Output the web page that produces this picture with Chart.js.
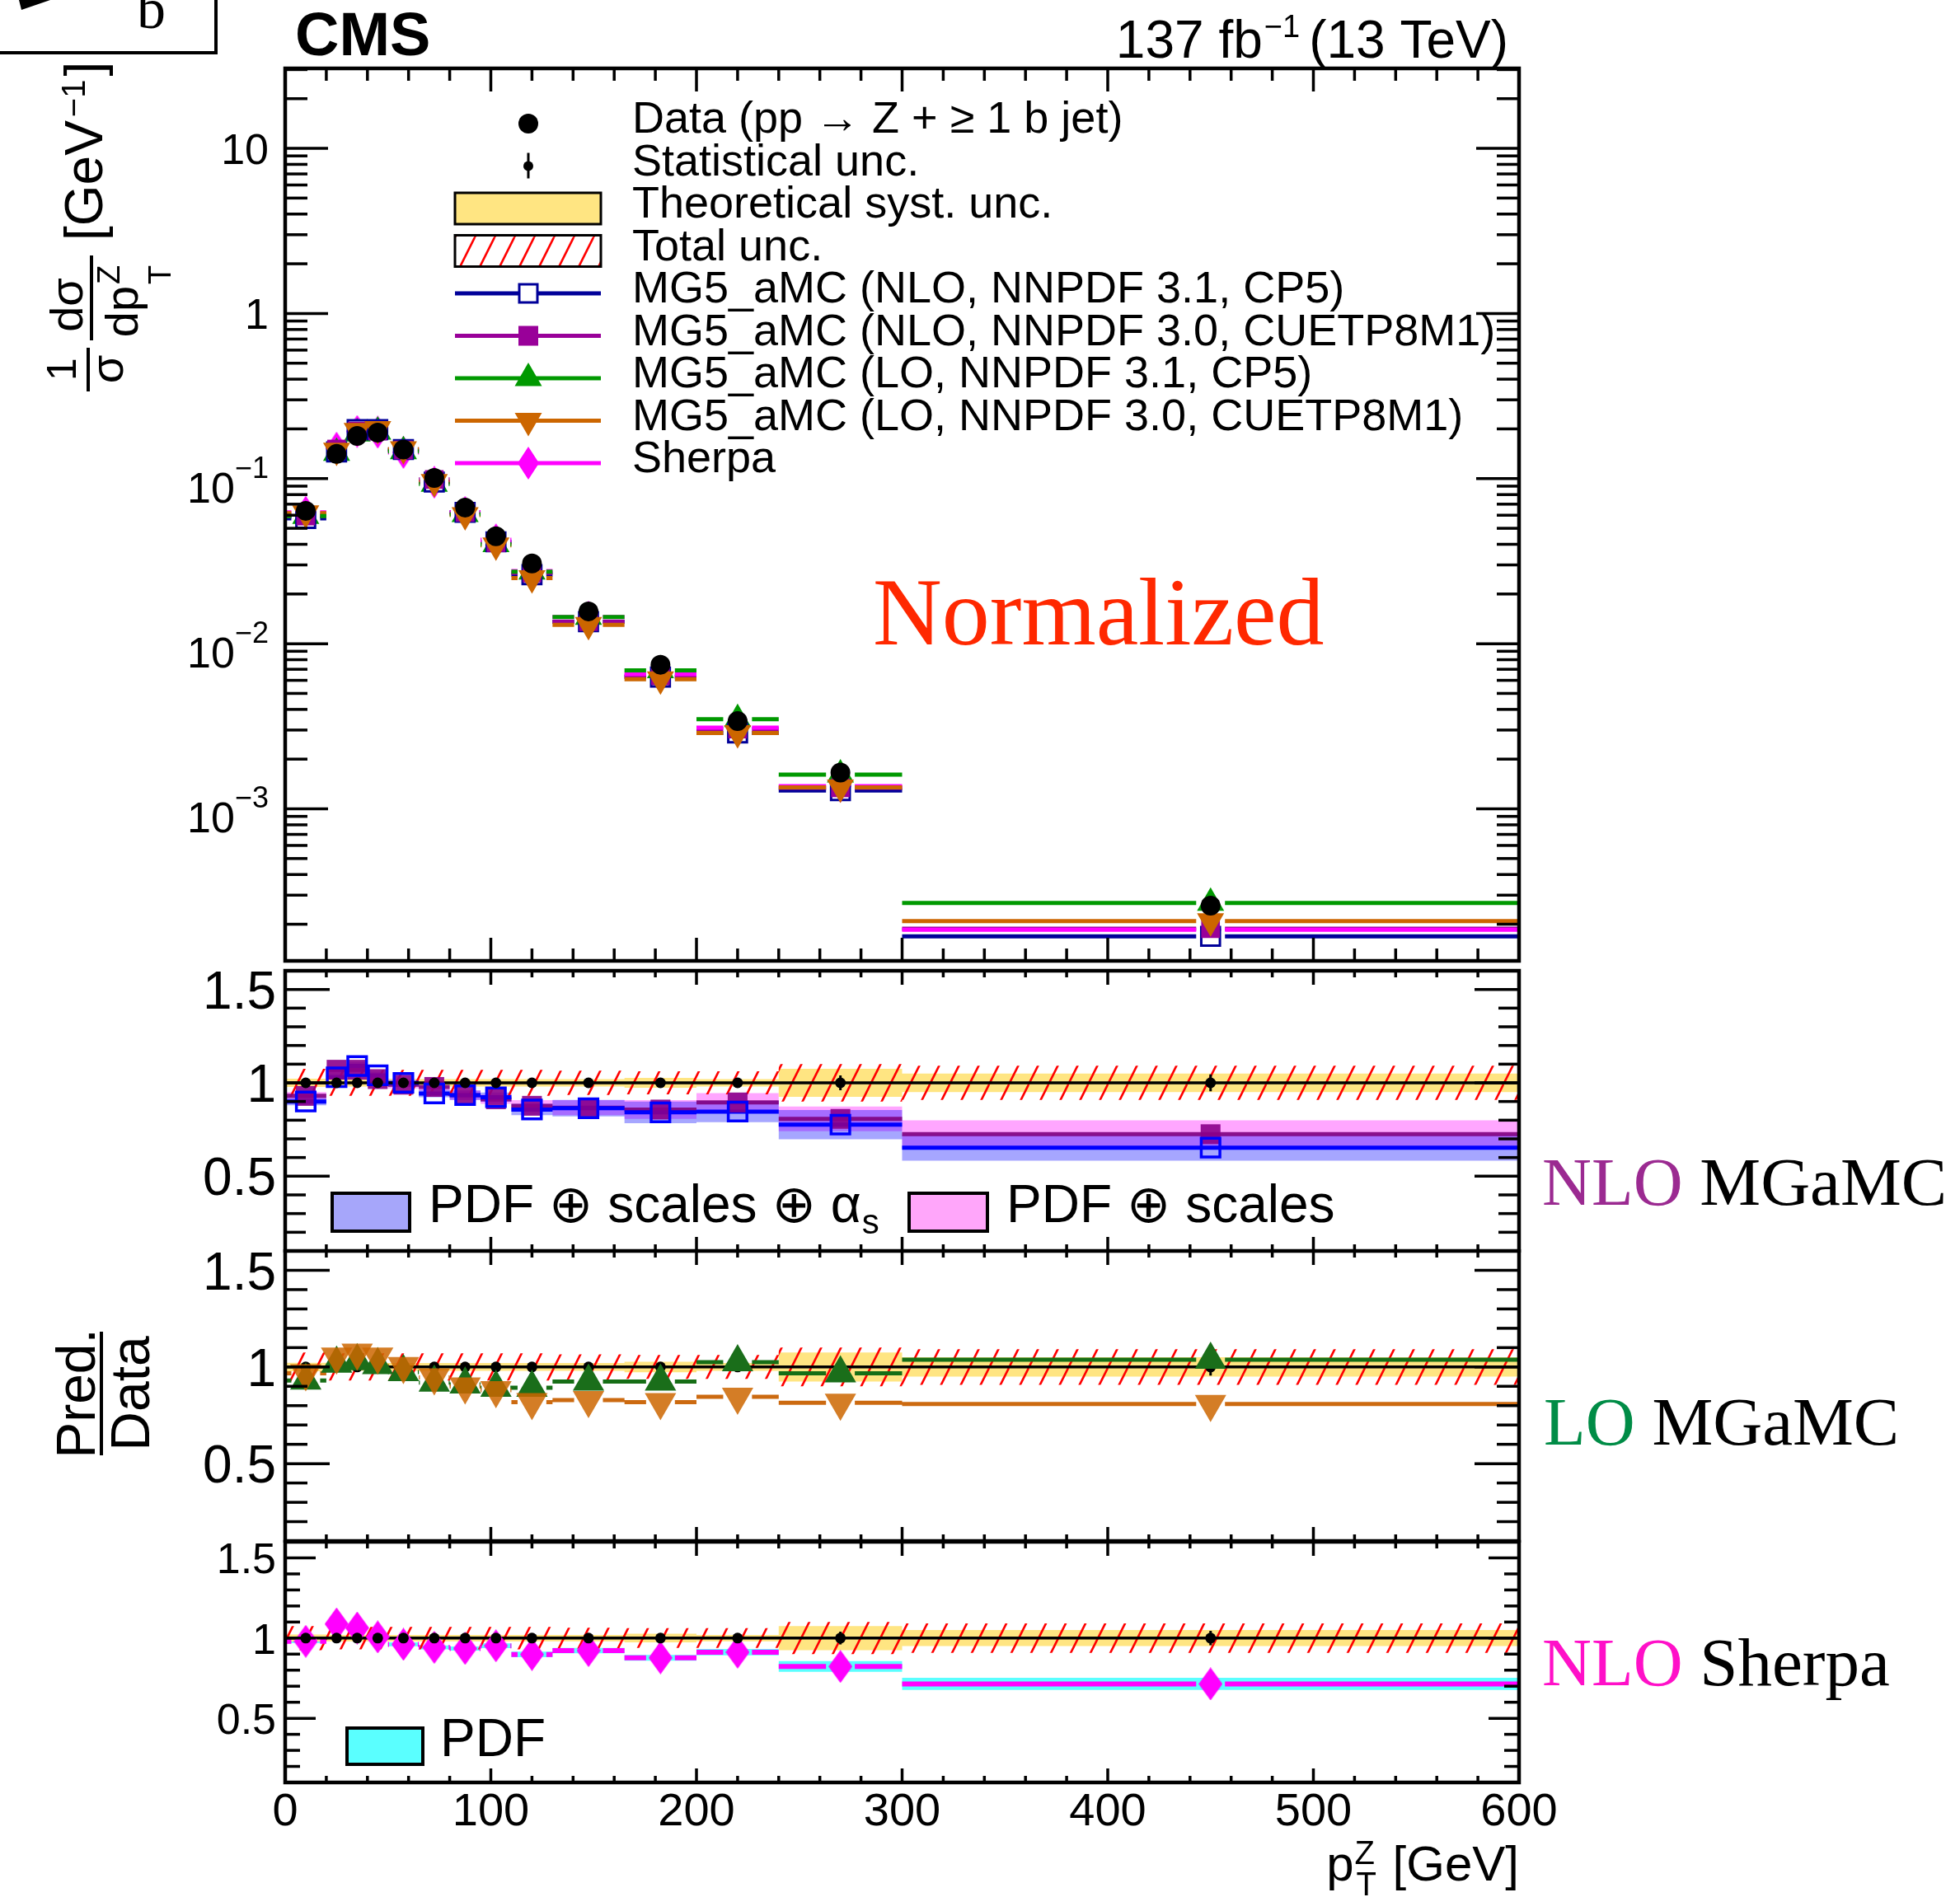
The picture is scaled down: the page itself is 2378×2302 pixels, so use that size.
<!DOCTYPE html>
<html>
<head>
<meta charset="utf-8">
<title>Z + b jet, normalized pT(Z)</title>
<script src="https://cdn.jsdelivr.net/npm/chart.js@4.4.1/dist/chart.umd.min.js"></script>
<style>
  html, body { margin: 0; padding: 0; background: #fff; }
  body { position: relative; width: 2378px; height: 2302px; overflow: hidden; }
  canvas { position: absolute; left: 0; }
</style>
</head>
<body>
<canvas id="main" width="2378" height="1172" style="top:0px"></canvas>
<canvas id="r1" width="2378" height="348" style="top:1172px"></canvas>
<canvas id="r2" width="2378" height="356" style="top:1516px"></canvas>
<canvas id="r3" width="2378" height="434" style="top:1868px"></canvas>
<script>
// ---- values ----
const binEdges = [0, 20, 30, 40, 50, 65, 80, 95, 110, 130, 165, 200, 240, 300, 600];
const binCenters = [10, 25, 35, 45, 57.5, 72.5, 87.5, 102.5, 120, 147.5, 182.5, 220, 270, 450];

// 1/sigma dsigma/dpT [GeV^-1]
const dataXsec   = [0.0638, 0.141, 0.1815, 0.190, 0.150, 0.101, 0.0668, 0.0448, 0.0306, 0.0157, 0.00746, 0.0034, 0.00166, 0.000259];
const nlo31Xsec  = [0.0574, 0.145, 0.198, 0.198, 0.150, 0.0952, 0.0624, 0.0414, 0.0262, 0.0136, 0.00628, 0.00288, 0.00129, 0.000169];
const nlo30Xsec  = [0.0593, 0.151, 0.194, 0.194, 0.149, 0.0988, 0.0624, 0.0409, 0.0268, 0.0136, 0.00639, 0.00304, 0.00134, 0.000188];
const lo31Xsec   = [0.0593, 0.143, 0.187, 0.192, 0.146, 0.0928, 0.0608, 0.0400, 0.0273, 0.0145, 0.00690, 0.00349, 0.00161, 0.000269];
const lo30Xsec   = [0.0617, 0.148, 0.195, 0.200, 0.151, 0.0955, 0.0601, 0.0394, 0.0250, 0.0130, 0.00610, 0.00288, 0.00135, 0.000209];
const sherpaXsec = [0.0625, 0.153, 0.193, 0.191, 0.144, 0.0951, 0.0625, 0.0426, 0.0275, 0.0145, 0.00654, 0.00310, 0.00137, 0.000185];

// relative uncertainties of the data
const statUnc  = [0.01, 0.008, 0.008, 0.008, 0.008, 0.01, 0.01, 0.012, 0.013, 0.015, 0.02, 0.025, 0.04, 0.045];
const theoUnc  = [0.022, 0.02, 0.02, 0.02, 0.02, 0.02, 0.02, 0.02, 0.02, 0.02, 0.027, 0.02, 0.075, 0.05];
const totalUnc = [0.075, 0.07, 0.07, 0.07, 0.07, 0.07, 0.07, 0.07, 0.07, 0.065, 0.062, 0.062, 0.1, 0.092];

// prediction / data
const nlo31Ratio  = [0.90, 1.03, 1.09, 1.04, 1.00, 0.943, 0.934, 0.923, 0.857, 0.864, 0.842, 0.846, 0.776, 0.653];
const nlo30Ratio  = [0.93, 1.07, 1.07, 1.02, 0.99, 0.978, 0.934, 0.912, 0.877, 0.867, 0.857, 0.895, 0.807, 0.725];
const lo31Ratio   = [0.93, 1.017, 1.03, 1.01, 0.974, 0.919, 0.91, 0.893, 0.893, 0.925, 0.925, 1.025, 0.967, 1.038];
const lo30Ratio   = [0.967, 1.053, 1.074, 1.053, 1.004, 0.946, 0.899, 0.88, 0.818, 0.829, 0.818, 0.846, 0.815, 0.808];
const sherpaRatio = [0.98, 1.088, 1.063, 1.007, 0.961, 0.942, 0.935, 0.952, 0.898, 0.922, 0.877, 0.912, 0.823, 0.714];
const dataRatio   = dataXsec.map(v => v / v);

// theory bands (half widths)
const nlo31Band     = [0.02, 0.02, 0.02, 0.02, 0.02, 0.02, 0.025, 0.025, 0.03, 0.044, 0.058, 0.057, 0.078, 0.07];
const nlo30Band     = [0.02, 0.02, 0.02, 0.02, 0.02, 0.02, 0.025, 0.025, 0.03, 0.04, 0.05, 0.05, 0.066, 0.074];
const sherpaPdfBand = [0.01, 0.01, 0.01, 0.01, 0.012, 0.012, 0.013, 0.015, 0.017, 0.017, 0.018, 0.02, 0.034, 0.038];

// axis labels
const xTickValues = [0, 100, 200, 300, 400, 500, 600];
const xTickLabels = ['0', '100', '200', '300', '400', '500', '600'];
const mainTickValues = [10, 1, 0.1, 0.01, 0.001];
const mainTickLabels = [['10', ''], ['1', ''], ['10', '\u22121'], ['10', '\u22122'], ['10', '\u22123']];
const ratioTickValues = [0.5, 1, 1.5];
const ratioTickLabels = ['0.5', '1', '1.5'];

// ---- styling ----
const SANS = '"Liberation Sans", Arial, Helvetica, "DejaVu Sans", sans-serif';
const SERIF = '"Liberation Serif", "Times New Roman", "DejaVu Serif", serif';
const YELLOW = 'rgb(255,229,130)';
const CYAN = 'rgb(90,255,255)';
const GAP = 7; // GeV left blank each side of a marker, like ROOT does

function makeHatch() {
  const c = document.createElement('canvas');
  c.width = 24; c.height = 48;
  const g = c.getContext('2d');
  g.strokeStyle = '#ff0000';
  g.lineWidth = 2.6;
  g.beginPath();
  [-24, 0, 24].forEach(o => { g.moveTo(o, 48); g.lineTo(o + 24, 0); });
  g.stroke();
  return g.createPattern(c, 'repeat');
}
const hatch = makeHatch();

function diamondImage(w, h, color) {
  const c = document.createElement('canvas');
  c.width = w; c.height = h;
  const g = c.getContext('2d');
  g.fillStyle = color;
  g.beginPath();
  g.moveTo(w / 2, 0); g.lineTo(w, h / 2); g.lineTo(w / 2, h); g.lineTo(0, h / 2);
  g.closePath(); g.fill();
  return c;
}
const diamondMain = diamondImage(26, 40, '#ff00ff');
const diamondRatio = diamondImage(29, 40, '#ff00ff');

// ---- dataset builders ----
function segLine(values, color, width, gap, order) {
  const pts = [];
  values.forEach((v, i) => {
    const lo = binEdges[i], hi = binEdges[i + 1], c = binCenters[i];
    if (!gap) { pts.push({ x: lo, y: v }, { x: hi, y: v }, { x: hi, y: null }); return; }
    if (c - gap > lo) pts.push({ x: lo, y: v }, { x: c - gap, y: v }, { x: c, y: null });
    if (c + gap < hi) pts.push({ x: c + gap, y: v }, { x: hi, y: v }, { x: hi, y: null });
  });
  return { data: pts, borderColor: color, borderWidth: width, borderCapStyle: 'butt',
    pointRadius: 0, spanGaps: false, fill: false, order };
}

function markers(values, style, radius, fill, stroke, bw, order, rotation) {
  return { data: binCenters.map((x, i) => ({ x, y: values[i] })), showLine: false,
    pointStyle: style, pointRadius: radius, pointRotation: rotation || 0,
    pointBackgroundColor: fill, pointBorderColor: stroke, pointBorderWidth: bw, order };
}

function band(center, half, color, order) {
  const up = [], dn = [];
  center.forEach((v, i) => {
    up.push({ x: binEdges[i], y: v + half[i] }, { x: binEdges[i + 1], y: v + half[i] });
    dn.push({ x: binEdges[i], y: v - half[i] }, { x: binEdges[i + 1], y: v - half[i] });
  });
  return [
    { data: up, borderWidth: 0, borderColor: 'rgba(0,0,0,0)', pointRadius: 0, fill: '+1', backgroundColor: color, order },
    { data: dn, borderWidth: 0, borderColor: 'rgba(0,0,0,0)', pointRadius: 0, fill: false, order: order - 0.5 },
  ];
}

function statBars(half, order) {
  const pts = [];
  binCenters.forEach((c, i) => pts.push({ x: c, y: 1 - half[i] }, { x: c, y: 1 + half[i] }, { x: c, y: null }));
  return { data: pts, borderColor: '#000', borderWidth: 3, pointRadius: 0, spanGaps: false, fill: false, order };
}

// ---- drawing helpers ----
function seg(ctx, x1, y1, x2, y2) {
  ctx.beginPath(); ctx.moveTo(x1, y1); ctx.lineTo(x2, y2); ctx.stroke();
}

function frameAndTicks(chart, cfg) {
  const ctx = chart.ctx, a = chart.chartArea, xs = chart.scales.x, ys = chart.scales.y;
  ctx.save();
  ctx.strokeStyle = '#000';
  ctx.lineWidth = 3.5;
  for (let v = 0; v <= 600; v += 20) {
    const px = xs.getPixelForValue(v);
    const L = v % 100 === 0 ? cfg.xMaj : cfg.xMin;
    seg(ctx, px, a.top, px, a.top + L);
    seg(ctx, px, a.bottom, px, a.bottom - L);
  }
  cfg.yTicks.forEach(t => {
    const py = ys.getPixelForValue(t.v);
    const L = t.major ? cfg.yMaj : cfg.yMin;
    seg(ctx, a.left, py, a.left + L, py);
    seg(ctx, a.right, py, a.right - L, py);
  });
  ctx.lineWidth = 4.5;
  ctx.strokeRect(a.left, a.top, a.right - a.left, a.bottom - a.top);
  ctx.restore();
}

function text(ctx, s, x, y, size, opts) {
  opts = opts || {};
  ctx.font = (opts.weight || 'normal') + ' ' + size + 'px ' + (opts.family || SANS);
  ctx.fillStyle = opts.color || '#000';
  ctx.textAlign = opts.align || 'left';
  ctx.textBaseline = 'alphabetic';
  ctx.fillText(s, x, y);
  return ctx.measureText(s).width;
}

function width(ctx, s, size, family) {
  ctx.font = size + 'px ' + (family || SANS);
  return ctx.measureText(s).width;
}

function shape(ctx, kind, x, y, color) {
  ctx.fillStyle = color; ctx.strokeStyle = color;
  ctx.beginPath();
  if (kind === 'circle') ctx.arc(x, y, 12, 0, Math.PI * 2);
  if (kind === 'square') ctx.rect(x - 12, y - 12, 24, 24);
  if (kind === 'up') { ctx.moveTo(x, y - 19); ctx.lineTo(x + 16.5, y + 9.5); ctx.lineTo(x - 16.5, y + 9.5); ctx.closePath(); }
  if (kind === 'down') { ctx.moveTo(x, y + 19); ctx.lineTo(x + 16.5, y - 9.5); ctx.lineTo(x - 16.5, y - 9.5); ctx.closePath(); }
  ctx.fill();
}

const legendRows = [
  { label: 'Data (pp \u2192 Z + \u2265 1 b jet)', kind: 'data' },
  { label: 'Statistical unc.', kind: 'stat' },
  { label: 'Theoretical syst. unc.', kind: 'theo' },
  { label: 'Total unc.', kind: 'total' },
  { label: 'MG5_aMC (NLO, NNPDF 3.1, CP5)', kind: 'line', color: '#000099', marker: 'open' },
  { label: 'MG5_aMC (NLO, NNPDF 3.0, CUETP8M1)', kind: 'line', color: '#990099', marker: 'square' },
  { label: 'MG5_aMC (LO, NNPDF 3.1, CP5)', kind: 'line', color: '#009900', marker: 'up' },
  { label: 'MG5_aMC (LO, NNPDF 3.0, CUETP8M1)', kind: 'line', color: '#cc6600', marker: 'down' },
  { label: 'Sherpa', kind: 'line', color: '#ff00ff', marker: 'diamond' },
];

function drawMainLegend(ctx) {
  const x0 = 552, x1 = 729, xc = 641, tx = 767;
  legendRows.forEach((row, i) => {
    const y = 150 + i * 51.5;
    ctx.save();
    if (row.kind === 'data') shape(ctx, 'circle', xc, y, '#000');
    if (row.kind === 'stat') {
      ctx.strokeStyle = '#000'; ctx.lineWidth = 3; seg(ctx, xc, y - 16, xc, y + 15);
      ctx.fillStyle = '#000'; ctx.beginPath(); ctx.arc(xc, y, 6, 0, Math.PI * 2); ctx.fill();
    }
    if (row.kind === 'theo' || row.kind === 'total') {
      ctx.fillStyle = row.kind === 'theo' ? YELLOW : '#fff';
      ctx.fillRect(x0, y - 19, x1 - x0, 38);
      if (row.kind === 'total') { ctx.fillStyle = hatch; ctx.fillRect(x0, y - 19, x1 - x0, 38); }
      ctx.strokeStyle = '#000'; ctx.lineWidth = 3; ctx.strokeRect(x0, y - 19, x1 - x0, 38);
    }
    if (row.kind === 'line') {
      ctx.strokeStyle = row.color; ctx.lineWidth = 5; seg(ctx, x0, y, x1, y);
      if (row.marker === 'open') {
        ctx.fillStyle = '#fff'; ctx.fillRect(xc - 12, y - 12, 24, 24);
        ctx.lineWidth = 3; ctx.strokeRect(xc - 11, y - 11, 22, 22);
      } else if (row.marker === 'diamond') {
        ctx.drawImage(diamondMain, xc - 13, y - 20);
      } else {
        shape(ctx, row.marker, xc, y, row.color);
      }
    }
    text(ctx, row.label, tx, y + 11, 54);
    ctx.restore();
  });
}

function drawMainYTitle(ctx) {
  ctx.save();
  ctx.rotate(-Math.PI / 2);
  ctx.fillStyle = '#000';
  // local (lx, ly) -> page (x = ly, y = -lx)
  const put = (s, pageY, pageX, size, align) => text(ctx, s, -pageY, pageX, size, { align: align || 'center' });
  put('1', 448, 92, 50);
  put('\u03c3', 448, 149, 56);
  ctx.fillRect(-475, 105, 53, 4);
  put('d\u03c3', 370, 100, 56);
  put('dp', 378, 167, 56);
  put('Z', 345, 145, 38, 'left');
  put('T', 345, 207, 38, 'left');
  ctx.fillRect(-413, 109, 103, 4);
  const w1 = put('[GeV', 292, 124, 64, 'left');
  const w2 = put('\u22121', 292 - w1 - 4, 103, 40, 'left');
  put(']', 292 - w1 - w2 - 8, 124, 64, 'left');
  ctx.restore();
}

function drawHeader(ctx) {
  text(ctx, 'CMS', 358, 67, 74, { weight: 'bold' });
  const wTev = width(ctx, '(13 TeV)', 64);
  text(ctx, '(13 TeV)', 1830, 70, 64, { align: 'right' });
  const supRight = 1830 - wTev - 11;
  const wSup = width(ctx, '\u22121', 38);
  text(ctx, '\u22121', supRight, 45, 38, { align: 'right' });
  text(ctx, '137 fb', supRight - wSup - 2, 70, 64, { align: 'right' });
  text(ctx, 'Normalized', 1059, 782, 116, { family: SERIF, color: '#ff2800' });
  // corner of the neighbouring panel, cut by the figure edge
  ctx.save();
  ctx.strokeStyle = '#000'; ctx.lineWidth = 4;
  seg(ctx, 262, 0, 262, 66); seg(ctx, 0, 64, 264, 64);
  ctx.fillStyle = '#000';
  ctx.beginPath(); ctx.moveTo(23, 0); ctx.lineTo(61, 0); ctx.lineTo(26, 12); ctx.closePath(); ctx.fill();
  ctx.restore();
  text(ctx, 'b', 166, 34, 70, { family: SERIF });
}

function sideLabel(ctx, first, color, second, x, y) {
  const w = text(ctx, first, x, y, 83, { family: SERIF, color });
  const sp = width(ctx, ' ', 83, SERIF);
  text(ctx, second, x + w + sp, y, 83, { family: SERIF });
}

function legendBox(ctx, x, y, w, h, fill) {
  ctx.save();
  ctx.fillStyle = fill; ctx.fillRect(x, y, w, h);
  ctx.strokeStyle = '#000'; ctx.lineWidth = 4; ctx.strokeRect(x, y, w, h);
  ctx.restore();
}

// ---- plugins ----
const mainDecor = {
  id: 'mainDecor',
  afterDatasetsDraw(chart) {
    const ctx = chart.ctx, ys = chart.scales.y;
    const yTicks = [];
    for (let e = -4; e <= 1; e++) {
      for (let m = 1; m <= 9; m++) {
        const v = m * Math.pow(10, e);
        if (v > ys.min * 1.001 && v < ys.max * 0.999) yTicks.push({ v, major: m === 1 });
      }
    }
    frameAndTicks(chart, { yTicks, xMaj: 28, xMin: 15, yMaj: 52, yMin: 27 });
    ctx.save();
    mainTickValues.forEach((v, i) => {
      const py = ys.getPixelForValue(v);
      const base = mainTickLabels[i][0], sup = mainTickLabels[i][1];
      const wb = width(ctx, base, 52);
      const ws = sup ? width(ctx, sup, 36) : 0;
      const x0 = 326 - wb - ws;
      text(ctx, base, x0, py + (sup ? 29 : 19), 52);
      if (sup) text(ctx, sup, x0 + wb, py - 1, 36);
    });
    drawHeader(ctx);
    drawMainYTitle(ctx);
    drawMainLegend(ctx);
    ctx.restore();
  }
};

function ratioDecor(id, off, cfg, extra) {
  return {
    id,
    afterDatasetsDraw(chart) {
      const ctx = chart.ctx, ys = chart.scales.y;
      const yTicks = [];
      for (let k = 2; k <= 15; k++) yTicks.push({ v: k / 10, major: k % 5 === 0 });
      frameAndTicks(chart, { yTicks, xMaj: 17, xMin: 8, yMaj: cfg.yMaj, yMin: cfg.yMin });
      ctx.save();
      ratioTickValues.forEach((v, i) => {
        text(ctx, ratioTickLabels[i], 335, ys.getPixelForValue(v) + cfg.font * 0.36, cfg.font, { align: 'right' });
      });
      ctx.translate(0, -off);
      extra(ctx, chart);
      ctx.restore();
    }
  };
}

const r1Decor = ratioDecor('r1Decor', 1172, { yMaj: 54, yMin: 25, font: 64 }, ctx => {
  sideLabel(ctx, 'NLO', '#9b2a91', 'MGaMC', 1871, 1462);
  legendBox(ctx, 403, 1448, 94, 46, 'rgb(166,166,250)');
  const w = text(ctx, 'PDF \u2295 scales \u2295 \u03b1', 520, 1483, 64);
  text(ctx, 's', 520 + w + 1, 1497, 42);
  legendBox(ctx, 1103, 1448, 95, 46, 'rgb(255,166,250)');
  text(ctx, 'PDF \u2295 scales', 1221, 1483, 64);
});

const r2Decor = ratioDecor('r2Decor', 1516, { yMaj: 54, yMin: 27, font: 64 }, ctx => {
  sideLabel(ctx, 'LO', '#008c46', 'MGaMC', 1873, 1753);
  ctx.save();
  ctx.rotate(-Math.PI / 2);
  text(ctx, 'Pred.', -1691, 115, 66, { align: 'center' });
  text(ctx, 'Data', -1691, 181, 66, { align: 'center' });
  ctx.fillRect(-1766, 121, 150, 4);
  ctx.restore();
});

const r3Decor = ratioDecor('r3Decor', 1868, { yMaj: 37, yMin: 18, font: 52 }, (ctx, chart) => {
  const xs = chart.scales.x;
  xTickValues.forEach((v, i) => text(ctx, xTickLabels[i], xs.getPixelForValue(v), 2215, 56, { align: 'center' }));
  const wg = width(ctx, '[GeV]', 60);
  text(ctx, '[GeV]', 1843, 2282, 60, { align: 'right' });
  const zx = 1843 - wg - 46;
  text(ctx, 'p', zx - 1, 2282, 60, { align: 'right' });
  text(ctx, 'Z', zx, 2262, 40);
  text(ctx, 'T', zx + 2, 2300, 40);
  sideLabel(ctx, 'NLO', '#ff10c8', 'Sherpa', 1871, 2045);
  legendBox(ctx, 421, 2097, 92, 44, CYAN);
  text(ctx, 'PDF', 534, 2131, 64);
});

// ---- charts ----
function makeChart(id, datasets, yScale, padding, plugin) {
  return new Chart(document.getElementById(id), {
    type: 'line',
    data: { datasets },
    options: {
      responsive: false,
      animation: false,
      events: [],
      layout: { padding, autoPadding: false },
      plugins: { legend: { display: false }, tooltip: { enabled: false }, filler: { propagate: false } },
      elements: { line: { tension: 0 } },
      scales: {
        x: { type: 'linear', min: 0, max: 600, display: false },
        y: Object.assign({ display: false }, yScale),
      },
    },
    plugins: [plugin],
  });
}

const mainSets = [
  segLine(nlo31Xsec, '#000099', 5, GAP, 60),
  segLine(nlo30Xsec, '#990099', 5, GAP, 59),
  segLine(sherpaXsec, '#ff00ff', 5, GAP, 58),
  segLine(lo30Xsec, '#cc6600', 5, GAP, 57),
  segLine(lo31Xsec, '#009900', 5, GAP, 56),
  markers(sherpaXsec, diamondMain, 14, '#ff00ff', '#ff00ff', 0, 40),
  markers(lo31Xsec, 'triangle', 19, '#009900', '#009900', 0, 39),
  markers(nlo31Xsec, 'rect', 16, '#ffffff', '#000099', 3, 38),
  markers(nlo30Xsec, 'rect', 16, '#990099', '#990099', 0, 37),
  markers(lo30Xsec, 'triangle', 19, '#cc6600', '#cc6600', 0, 36, 180),
  markers(dataXsec, 'circle', 12, '#000', '#000', 0, 10),
];

const r1Sets = [
  ...band(nlo30Ratio, nlo30Band, 'rgba(255,0,255,0.35)', 90),
  ...band(nlo31Ratio, nlo31Band, 'rgba(0,0,255,0.35)', 88),
  ...band(dataRatio, theoUnc, YELLOW, 86),
  ...band(dataRatio, totalUnc, hatch, 84),
  segLine(nlo30Ratio, 'rgba(128,0,128,0.9)', 5, 0, 70),
  segLine(nlo31Ratio, '#0000ff', 5, 0, 69),
  segLine(dataRatio, '#000', 3.5, 0, 60),
  markers(nlo30Ratio, 'rect', 17, 'rgba(139,0,139,0.9)', 'rgba(139,0,139,0.9)', 0, 50),
  markers(nlo31Ratio, 'rect', 16, 'rgba(0,0,0,0)', '#0000ff', 3.5, 49),
  statBars(statUnc, 41),
  markers(dataRatio, 'circle', 6.5, '#000', '#000', 0, 40),
];

const r2Sets = [
  ...band(dataRatio, theoUnc, YELLOW, 90),
  ...band(dataRatio, totalUnc, hatch, 88),
  segLine(lo31Ratio, '#166e16', 5, GAP, 70),
  segLine(lo30Ratio, '#cc6a10', 5, GAP, 69),
  segLine(dataRatio, '#000', 3.5, 0, 60),
  statBars(statUnc, 51),
  markers(dataRatio, 'circle', 6.5, '#000', '#000', 0, 50),
  markers(lo31Ratio, 'triangle', 22, '#1a6e1a', '#1a6e1a', 0, 45),
  markers(lo30Ratio, 'triangle', 22, 'rgba(204,102,0,0.85)', 'rgba(204,102,0,0.85)', 0, 44, 180),
];

const r3Sets = [
  ...band(sherpaRatio, sherpaPdfBand, CYAN, 92),
  ...band(dataRatio, theoUnc, YELLOW, 90),
  ...band(dataRatio, totalUnc, hatch, 88),
  segLine(sherpaRatio, '#ff00ff', 6, GAP, 70),
  segLine(dataRatio, '#000', 3.5, 0, 60),
  markers(sherpaRatio, diamondRatio, 14, '#ff00ff', '#ff00ff', 0, 45),
  statBars(statUnc, 41),
  markers(dataRatio, 'circle', 6.5, '#000', '#000', 0, 40),
];

const ratioY = { type: 'linear', min: 0.1, max: 1.6 };
makeChart('main', mainSets, { type: 'logarithmic', min: 1.2e-4, max: 30.5 },
  { left: 346, right: 535, top: 83, bottom: 6 }, mainDecor);
makeChart('r1', r1Sets, ratioY, { left: 346, right: 535, top: 6, bottom: 2 }, r1Decor);
makeChart('r2', r2Sets, ratioY, { left: 346, right: 535, top: 2, bottom: 2 }, r2Decor);
makeChart('r3', r3Sets, ratioY, { left: 346, right: 535, top: 3, bottom: 139 }, r3Decor);
</script>
</body>
</html>
